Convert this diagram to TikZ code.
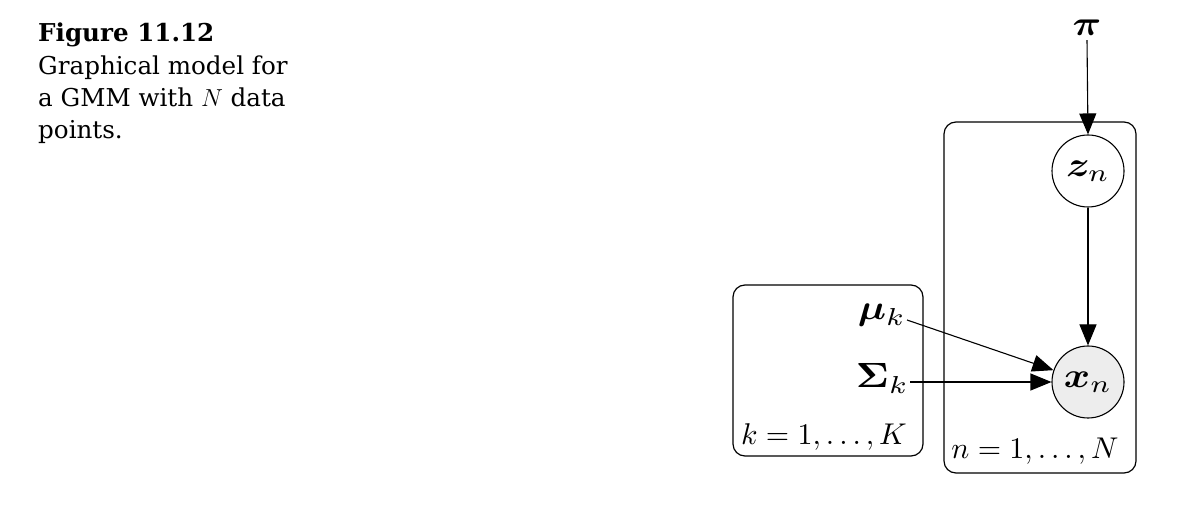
\RequirePackage{fix-cm}
\documentclass[tikz,border=0pt]{standalone}
\usepackage{fontspec}
\usepackage{graphicx}
\usepackage{amsmath,bm}
\setmainfont{DejaVu Serif}
\usetikzlibrary{arrows.meta}
\newcommand{\mlbl}[1]{\scalebox{3}{$#1$}}
\newcommand{\vlbl}[1]{\scalebox{4}[3.5]{$#1$}}
\begin{document}
\begin{tikzpicture}[x=1pt,y=-1pt,
  captxt/.style={anchor=base west,inner sep=0pt,font=\fontsize{24.6}{32}\selectfont},
  mathlbl/.style={inner sep=1pt,font=\fontsize{10}{12}\selectfont},
  latent/.style={circle,draw,line width=1.1pt,minimum size=72pt,inner sep=0pt,font=\fontsize{10}{12}\selectfont},
  observed/.style={latent,fill=black!7},
  plate/.style={draw,line width=1.2pt,rounded corners=12pt},
  conn/.style={line width=1.1pt,-{Triangle[length=21pt,width=17pt]}}]
\useasboundingbox (0,0) rectangle (1186,510);
% caption
\node[captxt] (cap1) at (38,42) {\bfseries Figure 11.12};
\node[captxt] (cap2) at (38,75) {Graphical model for};
\node[captxt] (cap3) at (38,107) {a GMM with $N$ data};
\node[captxt] (cap4) at (38,139) {points.};
% plates
\draw[plate] (944,122) rectangle (1136,473);
\draw[plate] (733,285) rectangle (923,456);
% nodes
\node[mathlbl,anchor=base,inner sep=4pt] (pi) at (1087,36) {\vlbl{\bm{\pi}}};
\node[latent] (zn) at (1088,171) {\vlbl{\bm{z}_n}};
\node[observed] (xn) at (1088,382) {\vlbl{\bm{x}_n}};
\node[mathlbl,anchor=base east] (mu) at (907,320) {\vlbl{\bm{\mu}_k}};
\node[mathlbl,anchor=base east] (Sigma) at (910,388) {\vlbl{\bm{\Sigma}_k}};
\node[mathlbl,anchor=base,inner sep=0pt] (klbl) at (824,444) {\mlbl{k=1,\ldots,K}};
\node[mathlbl,anchor=base,inner sep=0pt] (nlbl) at (1035,458) {\mlbl{n=1,\ldots,N}};
% edges
\draw[conn] (pi.south) -- (zn.north);
\draw[conn] (zn) -- (xn);
\draw[conn] (mu.base east) -- (xn);
\draw[conn] (Sigma.east |- xn.west) -- (xn.west);
\end{tikzpicture}
\end{document}
